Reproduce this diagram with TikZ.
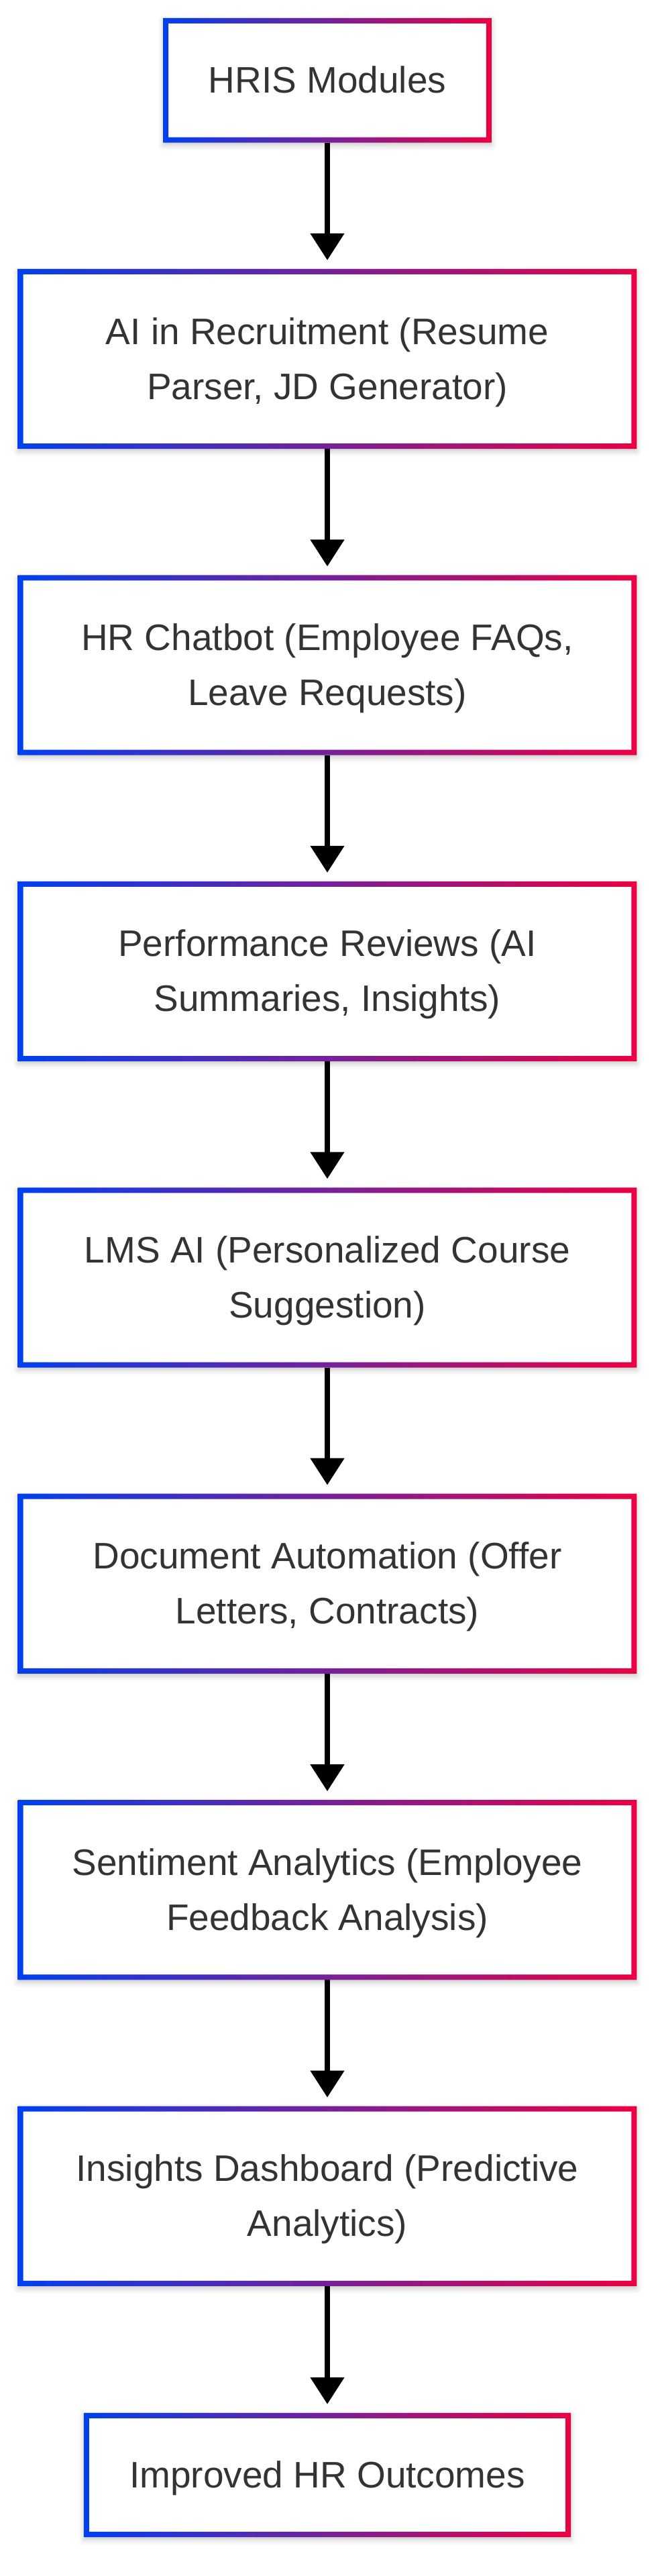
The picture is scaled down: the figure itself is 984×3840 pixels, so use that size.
\documentclass[tikz,border=0pt]{standalone}
\usepackage{fontspec}
\setmainfont{Liberation Sans}
\usepackage{tikz}
\usepackage{xcolor}
\usetikzlibrary{
    arrows.meta,
    shadows.blur,
    positioning
}
\definecolor{hrblue}{RGB}{0,64,240}
\definecolor{hrred}{RGB}{236,0,66}
\definecolor{hrtext}{RGB}{51,51,51}
\newcommand{\hrstrut}{\rule[-11pt]{0pt}{41pt}}
\tikzset{
    module/.style={rectangle, inner sep=0pt, fill=white, text=hrtext, align=center,
        font={\fontsize{27.5pt}{41pt}\selectfont},
        blur shadow={shadow xshift=0pt, shadow yshift=-2pt, shadow blur radius=4pt, shadow opacity=22}},
    widebox/.style={module, minimum width=461pt, minimum height=133.7pt},
    flow/.style={line width=4pt, -{Triangle[length=20pt, width=24.5pt]}, shorten >=6.5pt},
    frame/.style={left color=hrblue, right color=hrred, even odd rule}
}

\begin{document}
\begin{tikzpicture}[x=0.5pt, y=-0.5pt]
    \useasboundingbox (0, 0) rectangle (984, 3840);
    \node[module, minimum width=244.5pt, minimum height=92.5pt] (hris) at (488, 119.8) {\hrstrut HRIS Modules};
    \node[widebox] (recruit) at (488, 535) {\hrstrut AI in Recruitment (Resume\\\hrstrut Parser, JD Generator)};
    \node[widebox] (chatbot) at (488, 991.5) {\hrstrut HR Chatbot (Employee FAQs,\\\hrstrut Leave Requests)};
    \node[widebox] (review) at (488, 1447.9) {\hrstrut Performance Reviews (AI\\\hrstrut Summaries, Insights)};
    \node[widebox] (lms) at (488, 1904.4) {\hrstrut LMS AI (Personalized Course\\\hrstrut Suggestion)};
    \node[widebox] (docs) at (488, 2360.8) {\hrstrut Document Automation (Offer\\\hrstrut Letters, Contracts)};
    \node[widebox] (sentiment) at (488, 2817.3) {\hrstrut Sentiment Analytics (Employee\\\hrstrut Feedback Analysis)};
    \node[widebox] (insights) at (488, 3273.7) {\hrstrut Insights Dashboard (Predictive\\\hrstrut Analytics)};
    \node[module, minimum width=362.7pt, minimum height=92.2pt] (outcome) at (488, 3689.5) {\hrstrut Improved HR Outcomes};
    \draw
    (hris) edge[flow] (recruit)
    (recruit) edge[flow] (chatbot)
    (chatbot) edge[flow] (review)
    (review) edge[flow] (lms)
    (lms) edge[flow] (docs)
    (docs) edge[flow] (sentiment)
    (sentiment) edge[flow] (insights)
    (insights) edge[flow] (outcome);
    % gradient borders
    \foreach \n in {hris, recruit, chatbot, review, lms, docs, sentiment, insights, outcome}
        \shade[frame] (\n.south west) rectangle (\n.north east)
        ([shift={(4pt, 4pt)}]\n.south west) rectangle ([shift={(-4pt, -4pt)}]\n.north east);
\end{tikzpicture}
\end{document}
